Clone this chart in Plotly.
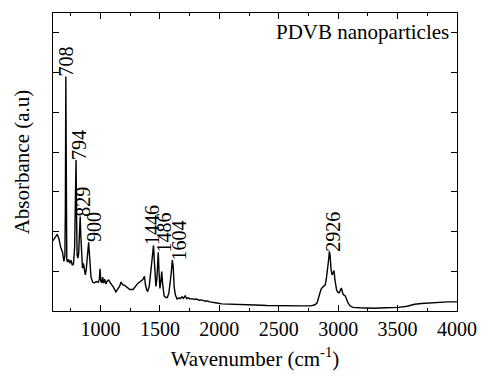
import plotly.graph_objects as go

# FTIR spectrum of PDVB nanoparticles
wavenumber = [
    600, 620, 635, 650, 665, 680, 692, 700, 704, 708, 712, 716, 722, 732, 742, 752, 762, 772,
    782, 790, 794, 798, 803, 810, 816, 822, 829, 834, 840, 848, 856, 864, 872, 880, 888, 894,
    900, 905, 912, 920, 935, 950, 965, 980, 990, 996, 1002, 1010, 1018, 1026, 1035, 1045,
    1055, 1068, 1080, 1096, 1112, 1129, 1145, 1160, 1173, 1186, 1200, 1220, 1247, 1274,
    1295, 1315, 1335, 1356, 1370, 1378, 1390, 1397, 1410, 1420, 1432, 1440, 1446, 1452,
    1460, 1466, 1474, 1480, 1486, 1492, 1500, 1508, 1515, 1522, 1535, 1550, 1562, 1575,
    1584, 1595, 1604, 1612, 1620, 1630, 1644, 1660, 1672, 1685, 1698, 1712, 1725, 1740,
    1753, 1770, 1790, 1808, 1830, 1850, 1877, 1900, 1920, 1946, 1980, 2020, 2082, 2150,
    2219, 2300, 2400, 2507, 2600, 2700, 2768, 2800, 2822, 2835, 2844, 2855, 2863, 2878,
    2891, 2900, 2910, 2920, 2926, 2932, 2940, 2948, 2956, 2965, 2972, 2980, 2986, 2995,
    3008, 3018, 3027, 3034, 3041, 3050, 3060, 3070, 3082, 3100, 3124, 3180, 3233, 3300,
    3400, 3507, 3580, 3644, 3700, 3781, 3850, 3920, 4000,
]
absorbance = [
    1.77, 1.85, 1.93, 1.82, 1.60, 1.48, 1.25, 1.40, 2.50, 5.90, 2.20, 1.30, 1.23, 1.30, 1.20,
    1.28, 1.15, 1.18, 1.60, 3.00, 3.80, 2.50, 1.40, 1.33, 1.45, 1.90, 2.38, 1.90, 1.30, 1.08,
    1.20, 0.98, 0.91, 1.05, 1.30, 1.60, 1.73, 1.50, 1.00, 0.85, 0.72, 0.71, 0.74, 0.72, 0.80,
    1.06, 0.75, 0.71, 0.85, 0.70, 0.80, 0.68, 0.75, 0.78, 0.72, 0.66, 0.58, 0.48, 0.56, 0.62,
    0.73, 0.66, 0.65, 0.60, 0.54, 0.54, 0.62, 0.70, 0.74, 0.79, 0.87, 0.66, 0.52, 0.50, 0.62,
    0.91, 1.25, 1.55, 1.65, 1.30, 0.80, 0.62, 0.80, 1.20, 1.48, 1.00, 0.57, 0.75, 0.99, 0.70,
    0.38, 0.34, 0.34, 0.45, 0.66, 0.95, 1.28, 1.10, 0.60, 0.40, 0.30, 0.33, 0.31, 0.36, 0.32,
    0.38, 0.31, 0.33, 0.30, 0.31, 0.29, 0.30, 0.27, 0.28, 0.25, 0.25, 0.23, 0.21, 0.20, 0.18,
    0.17, 0.16, 0.16, 0.15, 0.14, 0.13, 0.13, 0.13, 0.13, 0.15, 0.20, 0.35, 0.46, 0.54, 0.58,
    0.63, 0.66, 0.80, 0.99, 1.30, 1.50, 1.40, 1.05, 0.91, 0.95, 1.02, 0.80, 0.60, 0.54, 0.48,
    0.46, 0.52, 0.58, 0.50, 0.42, 0.40, 0.38, 0.30, 0.21, 0.13, 0.09, 0.08, 0.07, 0.07, 0.08,
    0.09, 0.12, 0.17, 0.19, 0.21, 0.22, 0.23, 0.23,
]

# Labelled absorption bands
peak_positions = [708, 794, 829, 900, 1446, 1486, 1604, 2926]
label_xshift = [0, 3, 3, 6, -1, 6, 7, 4]

x_tick_values = [1000, 1500, 2000, 2500, 3000, 3500, 4000]
x_tick_labels = ["1000", "1500", "2000", "2500", "3000", "3500", "4000"]

FONT = "Times New Roman"

fig = go.Figure()
fig.add_trace(go.Scatter(
    x=wavenumber, y=absorbance, mode="lines",
    line=dict(color="black", width=1.4),
    showlegend=False, hoverinfo="skip",
))

for pos, dx in zip(peak_positions, label_xshift):
    val = absorbance[wavenumber.index(pos)]
    fig.add_annotation(
        x=pos, y=val, xref="x", yref="y",
        text=str(pos), textangle=-90, showarrow=False,
        xanchor="center", yanchor="bottom", xshift=dx, yshift=-1,
        font=dict(family=FONT, size=20, color="black"),
        borderpad=0,
    )

fig.add_annotation(
    x=1, y=1, xref="paper", yref="paper",
    text="PDVB nanoparticles", showarrow=False,
    xanchor="right", yanchor="top", xshift=-6, yshift=-5,
    font=dict(family=FONT, size=21, color="black"),
)

fig.update_xaxes(
    range=[600, 4000],
    tickmode="array", tickvals=x_tick_values, ticktext=x_tick_labels,
    ticks="inside", ticklen=6, tickwidth=1, tickcolor="black",
    minor=dict(dtick=250, tick0=0, ticks="inside", ticklen=3, tickcolor="black"),
    showline=True, linecolor="black", linewidth=1, mirror="ticks",
    showgrid=False, zeroline=False,
    tickfont=dict(family=FONT, size=20, color="black"),
    title=dict(text="Wavenumber (cm<sup>-1</sup>)", standoff=12,
               font=dict(family=FONT, size=21, color="black")),
)
fig.update_yaxes(
    range=[0, 7.5],
    tickmode="linear", tick0=0, dtick=1,
    ticks="inside", ticklen=6, tickwidth=1, tickcolor="black",
    showticklabels=False,
    showline=True, linecolor="black", linewidth=1, mirror="ticks",
    showgrid=False, zeroline=False,
    title=dict(text="Absorbance (a.u)", standoff=16,
               font=dict(family=FONT, size=21, color="black")),
)

fig.update_layout(
    width=489, height=379,
    margin=dict(l=53, r=22, t=12, b=62),
    paper_bgcolor="white", plot_bgcolor="white",
    font=dict(family=FONT, color="black"),
)

fig.write_html("out.html")
